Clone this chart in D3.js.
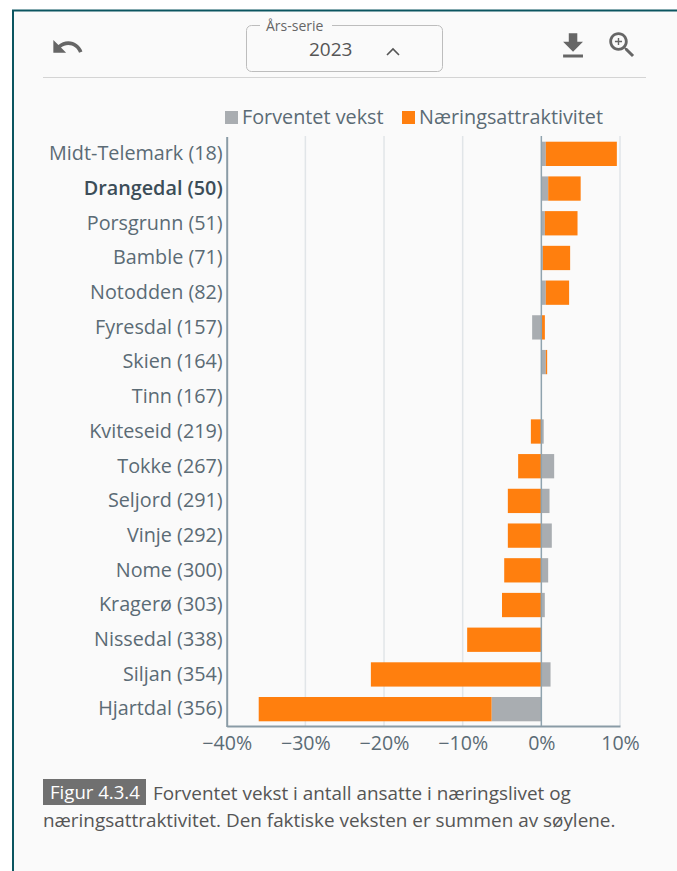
<!DOCTYPE html>
<html>

<head>
    <meta charset="utf-8">
    <script src="https://cdn.jsdelivr.net/npm/d3@7/dist/d3.min.js"></script>
    <style>
        html, body { margin: 0; padding: 0; background: #fff; }
        svg { display: block; font-family: "Open Sans", sans-serif; }
    </style>
</head>

<body>
    <svg id="chart" width="677" height="871"></svg>

    <script>
        // data, percent
        var kommuner = ["Midt-Telemark (18)", "Drangedal (50)", "Porsgrunn (51)", "Bamble (71)", "Notodden (82)",
            "Fyresdal (157)", "Skien (164)", "Tinn (167)", "Kviteseid (219)", "Tokke (267)", "Seljord (291)",
            "Vinje (292)", "Nome (300)", "Kragerø (303)", "Nissedal (338)", "Siljan (354)", "Hjartdal (356)"]
        var forventetVekst = [0.57, 0.87, 0.45, 0.2, 0.57, -1.17, 0.57, 0.05, 0.3, 1.63, 1.04, 1.33, 0.87, 0.44, 0, 1.17, -6.33]
        var naeringsattraktivitet = [9.03, 4.13, 4.15, 3.46, 2.96, 0.45, 0.17, 0, -1.33, -2.95, -4.26, -4.26, -4.72, -5.0, -9.43, -21.67, -29.6]
        var seriesNames = ["Forventet vekst", "Næringsattraktivitet"]
        var seriesColors = ["#a9adb1", "#ff7f0e"]
        var xTicks = [-40, -30, -20, -10, 0, 10]
        var highlighted = "Drangedal (50)"

        var svg = d3.select("#chart")
        var textColor = "#5b6b75"

        // panel
        svg.append("rect").attr("x", 13).attr("y", 10.5).attr("width", 680).attr("height", 880)
            .attr("fill", "#fafafa").attr("stroke", "#0b5560").attr("stroke-width", 2)

        // toolbar
        function icon(path, x, y, scale) {
            svg.append("path").attr("d", path).attr("fill", "#666")
                .attr("transform", "translate(" + x + "," + y + ") scale(" + scale + ")")
        }
        icon("M12.5 8c-2.65 0-5.05.99-6.9 2.6L2 7v9h9l-3.62-3.62c1.39-1.16 3.16-1.88 5.12-1.88 3.54 0 6.55 2.31 7.6 5.5l2.37-.78C21.08 11.03 17.15 8 12.5 8z", 50.5, 30, 1.42)
        icon("M19 9h-4V3H9v6H5l7 7 7-7zM5 18v2h14v-2H5z", 556, 29, 1.42)
        icon("M15.5 14h-.79l-.28-.27C15.41 12.59 16 11.11 16 9.5 16 5.91 13.09 3 9.5 3S3 5.91 3 9.5 5.91 16 9.5 16c1.61 0 3.09-.59 4.23-1.57l.27.28v.79l5 4.99L20.49 19l-4.99-5zm-6 0C7.01 14 5 11.99 5 9.5S7.01 5 9.5 5 14 7.01 14 9.5 11.99 14 9.5 14z M12 10h-2v2H9v-2H7V9h2V7h1v2h2v1z", 605, 28, 1.42)

        svg.append("rect").attr("x", 246.5).attr("y", 25.5).attr("width", 196).attr("height", 46).attr("rx", 5)
            .attr("fill", "none").attr("stroke", "#bdbdbd")
        svg.append("rect").attr("x", 260).attr("y", 20).attr("width", 72).attr("height", 12).attr("fill", "#fafafa")
        svg.append("text").attr("x", 266).attr("y", 31).attr("font-size", 14).attr("fill", "#666").text("Års-serie")
        svg.append("text").attr("x", 309).attr("y", 56).attr("font-size", 19).attr("fill", "#555").text("2023")
        svg.append("path").attr("d", "M387 55l6-6 6 6").attr("fill", "none").attr("stroke", "#555").attr("stroke-width", 1.6)
        svg.append("line").attr("x1", 43).attr("x2", 646).attr("y1", 77.5).attr("y2", 77.5).attr("stroke", "#d4d4d4")

        // legend
        var legendX = [225, 402]
        seriesNames.forEach(function(name, i) {
            svg.append("rect").attr("x", legendX[i]).attr("y", 111).attr("width", 13).attr("height", 13).attr("fill", seriesColors[i])
            svg.append("text").attr("x", legendX[i] + 17).attr("y", 124).attr("font-size", 19.8).attr("fill", textColor).text(name)
        })

        // scales
        var x = d3.scaleLinear().domain([-40, 10]).range([226.7, 620])
        var y = d3.scaleBand().domain(kommuner).range([136.5, 726.5]).paddingInner(0.3).paddingOuter(0.15)

        // gridlines
        svg.append("g").selectAll("line")
            .data(xTicks.filter(function(d) { return d != 0 && d != -40 }))
            .enter()
            .append("line")
            .attr("x1", function(d) { return x(d) })
            .attr("x2", function(d) { return x(d) })
            .attr("y1", 136)
            .attr("y2", 726)
            .attr("stroke", "#e1e5e8")
            .attr("stroke-width", 1.5)

        // stacked bars
        var rows = kommuner.map(function(k, i) {
            return { name: k, a: forventetVekst[i], b: naeringsattraktivitet[i] }
        })
        var stacked = d3.stack().keys(["a", "b"]).offset(d3.stackOffsetDiverging)(rows)

        svg.append("g").selectAll("g")
            .data(stacked)
            .enter()
            .append("g")
            .attr("fill", function(d, i) { return seriesColors[i] })
            .selectAll("rect")
            .data(function(d) { return d })
            .enter()
            .append("rect")
            .attr("x", function(d) { return x(Math.min(d[0], d[1])) })
            .attr("width", function(d) { return Math.abs(x(d[1]) - x(d[0])) })
            .attr("y", function(d) { return y(d.data.name) })
            .attr("height", y.bandwidth())

        // axes
        var xAxis = d3.axisBottom(x).tickValues(xTicks).tickSize(0).tickPadding(10)
            .tickFormat(function(d) { return (d < 0 ? "−" + (-d) : d) + "%" })
        var gx = svg.append("g").attr("transform", "translate(0,726)").call(xAxis)
        gx.select(".domain").attr("stroke", "#8a9ba6").attr("stroke-width", 2)
        gx.selectAll("text").attr("font-size", 19.6).attr("font-family", "Open Sans").attr("fill", textColor)

        var yAxis = d3.axisLeft(y).tickSize(0).tickPadding(4)
        var gy = svg.append("g").attr("transform", "translate(226.7,0)").call(yAxis)
        gy.select(".domain").attr("stroke", "#8a9ba6").attr("stroke-width", 2)
        gy.selectAll("text").attr("font-size", 19.8).attr("font-family", "Open Sans").attr("fill", textColor)
            .attr("font-weight", function(d) { return d == highlighted ? 600 : 400 })
            .attr("fill", function(d) { return d == highlighted ? "#3c4d58" : textColor })

        // zero line on top
        svg.append("line").attr("x1", x(0)).attr("x2", x(0)).attr("y1", 136).attr("y2", 726)
            .attr("stroke", "#8fa3ae").attr("stroke-width", 1.5)

        // caption
        svg.append("rect").attr("x", 43).attr("y", 779).attr("width", 103).attr("height", 26).attr("fill", "#707070")
        svg.append("text").attr("x", 50).attr("y", 799).attr("font-size", 18.6).attr("fill", "#fff").text("Figur 4.3.4")
        svg.append("text").attr("x", 153).attr("y", 800).attr("font-size", 18.9).attr("fill", "#555").text("Forventet vekst i antall ansatte i næringslivet og")
        svg.append("text").attr("x", 43).attr("y", 827).attr("font-size", 18.9).attr("fill", "#555").text("næringsattraktivitet. Den faktiske veksten er summen av søylene.")
    </script>
</body>

</html>
